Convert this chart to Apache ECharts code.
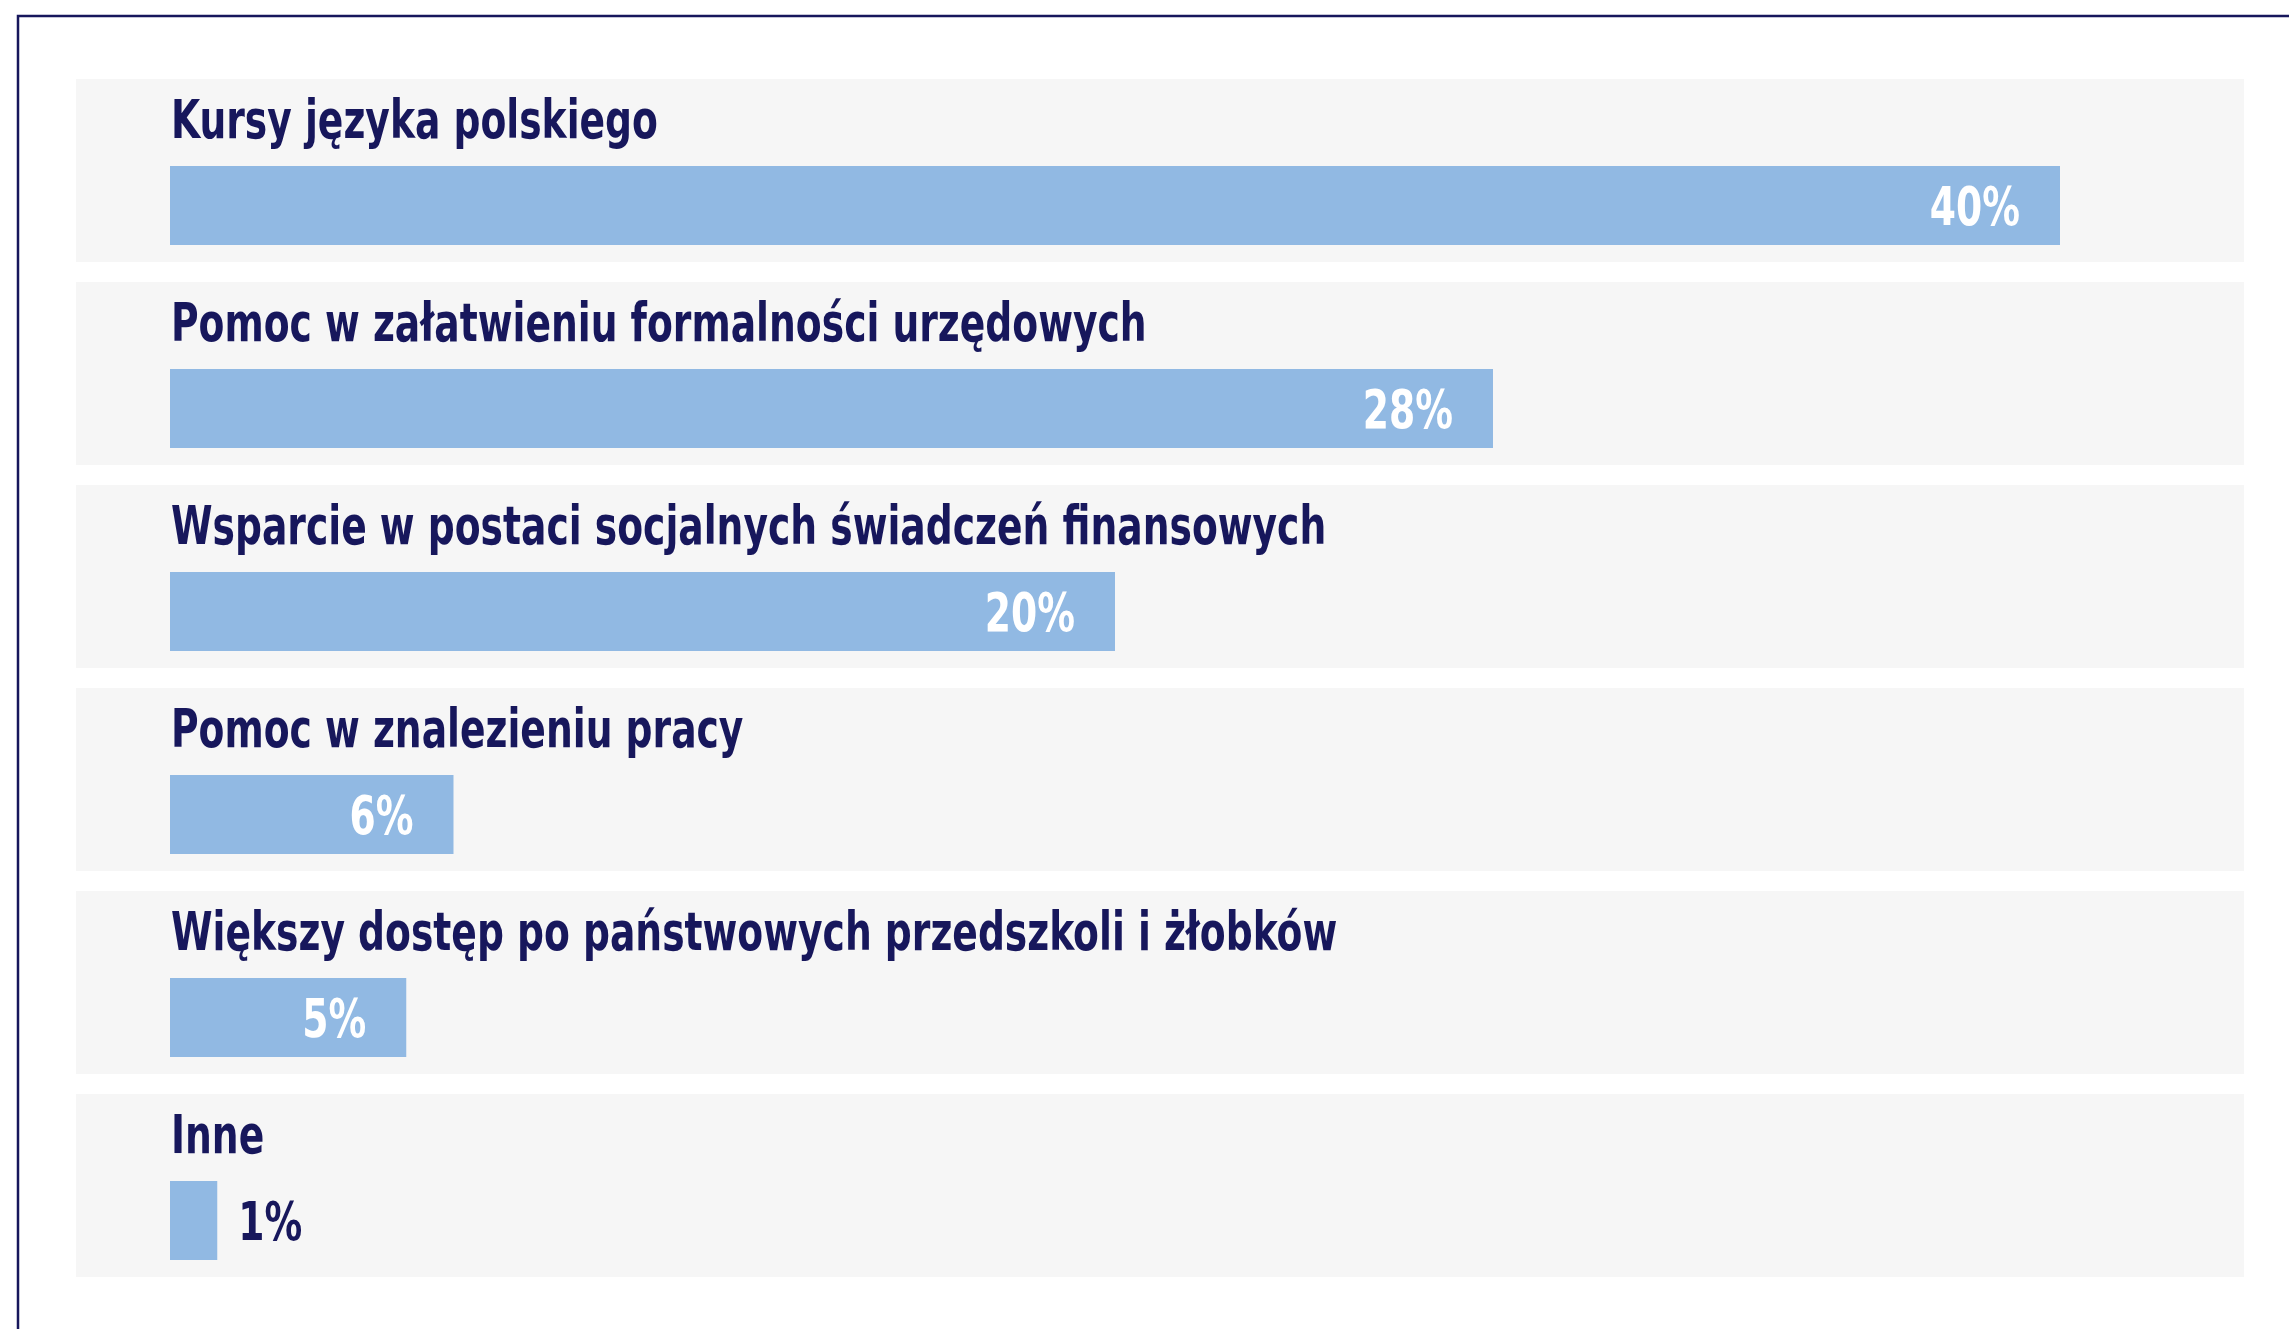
<!DOCTYPE html>
<html>
<head>
<meta charset="utf-8">
<script src="https://cdn.jsdelivr.net/npm/echarts@6/dist/echarts.min.js"></script>
<style>
  html, body { margin: 0; padding: 0; background: #fff; }
  #chartBox { width: 2289px; height: 1329px; }
</style>
</head>
<body>
<div id="chartBox"></div>
<script>
// dane
const categories = [
  'Kursy języka polskiego',
  'Pomoc w załatwieniu formalności urzędowych',
  'Wsparcie w postaci socjalnych świadczeń finansowych',
  'Pomoc w znalezieniu pracy',
  'Większy dostęp po państwowych przedszkoli i żłobków',
  'Inne'
]
const values = [40, 28, 20, 6, 5, 1]

const navy = '#17175c'
const barColor = '#91b9e3'
const panelColor = '#f6f6f6'
const fontFamily = '"DejaVu Sans Condensed", "DejaVu Sans", sans-serif'
// font w oryginale jest węższy, więc ściskamy tekst w poziomie
const squeeze = 0.79

const chart = echarts.init(document.getElementById('chartBox'), null, { renderer: 'canvas' })

const renderRow = (params, api) => {
  const i = api.value(1)
  const v = api.value(0)
  const start = api.coord([0, i])
  const end = api.coord([v, i])
  const cy = start[1]
  const barTop = cy - 4.5
  const barH = 79
  const inside = v >= 3
  return {
    type: 'group',
    children: [
      // tło wiersza
      {
        type: 'rect',
        shape: { x: 76, y: cy - 91.5, width: 2244 - 76, height: 183 },
        style: { fill: panelColor }
      },
      {
        type: 'text',
        x: start[0] + 1,
        y: cy - 46,
        scaleX: squeeze,
        style: {
          text: categories[i],
          fill: navy,
          font: 'bold 53px ' + fontFamily,
          verticalAlign: 'middle',
          align: 'left'
        }
      },
      {
        type: 'rect',
        shape: { x: start[0], y: barTop, width: end[0] - start[0], height: barH },
        style: { fill: barColor }
      },
      {
        type: 'text',
        x: inside ? end[0] - 40 : end[0] + 21,
        y: cy + 41,
        scaleX: squeeze,
        style: {
          text: v + '%',
          fill: inside ? '#ffffff' : navy,
          font: 'bold 53px ' + fontFamily,
          verticalAlign: 'middle',
          align: inside ? 'right' : 'left'
        }
      }
    ]
  }
}

const option = {
  animation: false,
  grid: { left: 170, right: 40, top: 69, bottom: 42, containLabel: false },
  xAxis: { type: 'value', min: 0, max: 44, show: false },
  yAxis: { type: 'category', data: categories, inverse: true, show: false },
  graphic: [
    {
      type: 'polyline',
      shape: { points: [[18, 1329], [18, 16], [2289, 16]] },
      style: { stroke: navy, lineWidth: 2.5, fill: null }
    }
  ],
  series: [
    {
      type: 'custom',
      renderItem: renderRow,
      encode: { x: 0, y: 1 },
      data: values.map((v, i) => [v, i])
    }
  ]
}

chart.setOption(option)
</script>
</body>
</html>
